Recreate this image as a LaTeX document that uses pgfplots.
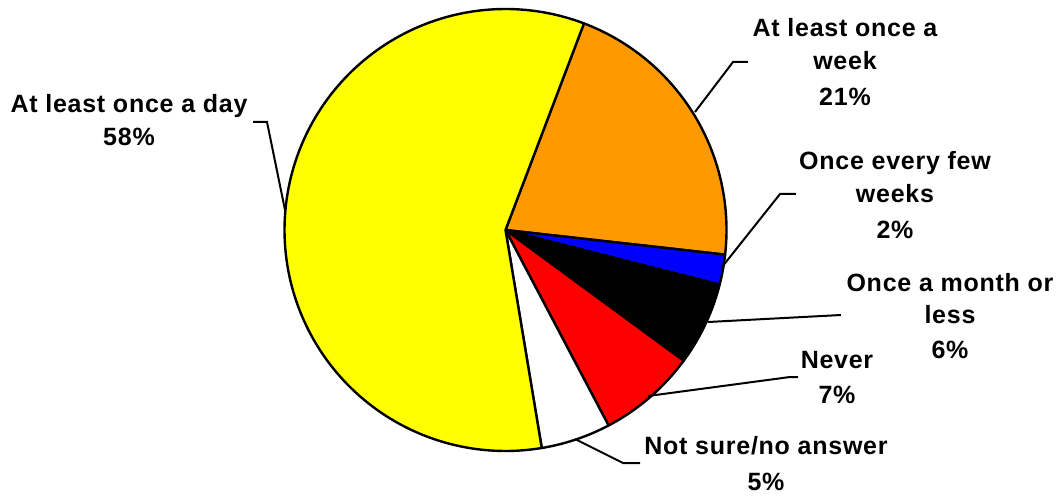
\documentclass[border=0pt]{standalone}
\usepackage{pgfplots}
\pgfplotsset{compat=1.18}
\usepackage{pgfplotstable}
\usepackage{fontspec}
\setmainfont{Liberation Sans}[LetterSpace=3]
\definecolor{pieyellow}{HTML}{FFFF00}
\definecolor{pieorange}{HTML}{FF9900}
\definecolor{pieblue}{HTML}{0000FF}
\definecolor{piered}{HTML}{FF0000}

% slice values in percent, clockwise from the start angle
\pgfplotstableread{
name value
week 21.0
fewweeks 2.2
month 6.1
never 7.2
notsure 5.1
day 58.4
}\piedata
\newcommand\getv[2]{\pgfplotstablegetelem{#1}{value}\of\piedata\let#2\pgfplotsretval}

\begin{document}
\begin{tikzpicture}[
  lbl/.style={anchor=base, inner sep=0pt, font=\fontsize{25}{30}\selectfont\bfseries},
  slice/.style={draw=black, line width=2.4pt, line join=round},
  lead/.style={line width=2pt},
]
\getv{0}\vA\getv{1}\vB\getv{2}\vC\getv{3}\vD\getv{4}\vE\getv{5}\vF
\pgfmathsetmacro\tA{69.2}
\pgfmathsetmacro\tB{\tA-3.6*\vA}
\pgfmathsetmacro\tC{\tB-3.6*\vB}
\pgfmathsetmacro\tD{\tC-3.6*\vC}
\pgfmathsetmacro\tE{\tD-3.6*\vD}
\pgfmathsetmacro\tF{\tE-3.6*\vE}
\pgfmathsetmacro\tG{\tF-3.6*\vF}
\begin{axis}[
  scale only axis, width=1062pt, height=496pt,
  xmin=0, xmax=1062, ymin=0, ymax=496,
  hide axis, clip=false,
]
\coordinate (bl) at (axis cs:0,0);
\coordinate (tr) at (axis cs:1062,496);
\addplot[slice, fill=pieorange, domain=\tB:\tA, samples=80] ({505.5+221*cos(x)},{266+221*sin(x)}) -- (axis cs:505.5,266) -- cycle;
\addplot[slice, fill=pieblue, domain=\tC:\tB, samples=20] ({505.5+221*cos(x)},{266+221*sin(x)}) -- (axis cs:505.5,266) -- cycle;
\addplot[slice, fill=black, domain=\tD:\tC, samples=30] ({505.5+221*cos(x)},{266+221*sin(x)}) -- (axis cs:505.5,266) -- cycle;
\addplot[slice, fill=piered, domain=\tE:\tD, samples=30] ({505.5+221*cos(x)},{266+221*sin(x)}) -- (axis cs:505.5,266) -- cycle;
\addplot[slice, fill=white, domain=\tF:\tE, samples=30] ({505.5+221*cos(x)},{266+221*sin(x)}) -- (axis cs:505.5,266) -- cycle;
\addplot[slice, fill=pieyellow, domain=\tG:\tF, samples=150] ({505.5+221*cos(x)},{266+221*sin(x)}) -- (axis cs:505.5,266) -- cycle;

% leader lines
\draw[lead] (axis cs:253,374) -- (axis cs:267,374) -- (axis cs:285,286);
\draw[lead] (axis cs:748,434) -- (axis cs:733,434) -- (axis cs:695,384);
\draw[lead] (axis cs:796,302) -- (axis cs:780,302) -- (axis cs:722,229);
\draw[lead] (axis cs:708,174) -- (axis cs:841,181);
\draw[lead] (axis cs:648,100) -- (axis cs:790,119) -- (axis cs:798,119);
\draw[lead] (axis cs:575,57) -- (axis cs:623,33) -- (axis cs:640,33);

% labels
\node[lbl] at (axis cs:129,383) {At least once a day};
\node[lbl] at (axis cs:129,350) {58\%};
\node[lbl] at (axis cs:845,459) {At least once a};
\node[lbl] at (axis cs:845,426) {week};
\node[lbl] at (axis cs:845,390) {21\%};
\node[lbl] at (axis cs:895,326) {Once every few};
\node[lbl] at (axis cs:895,293) {weeks};
\node[lbl] at (axis cs:895,258) {2\%};
\node[lbl] at (axis cs:950,205) {Once a month or};
\node[lbl] at (axis cs:950,173) {less};
\node[lbl] at (axis cs:950,138) {6\%};
\node[lbl] at (axis cs:837,128) {Never};
\node[lbl] at (axis cs:837,93) {7\%};
\node[lbl] at (axis cs:766,42) {Not sure/no answer};
\node[lbl] at (axis cs:766,6) {5\%};
\end{axis}
\pgfresetboundingbox
\useasboundingbox (bl) rectangle (tr);
\end{tikzpicture}
\end{document}
